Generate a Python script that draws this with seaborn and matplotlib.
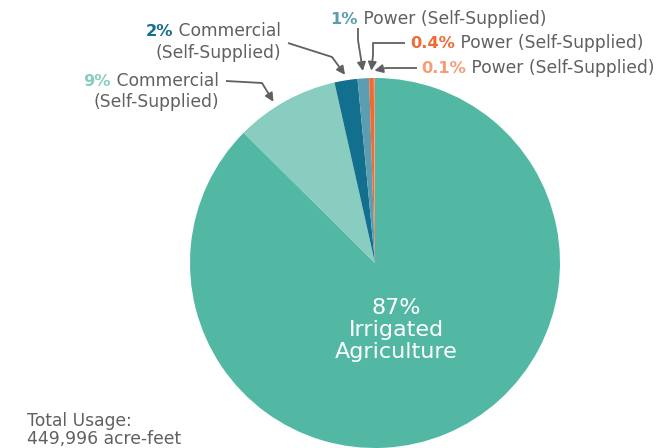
import numpy as np
import matplotlib
matplotlib.use("Agg")
import matplotlib.pyplot as plt
import seaborn as sns

# water use shares (percent), drawn clockwise from 12 o'clock
categories = ["Irrigated Agriculture", "Commercial (Self-Supplied)", "Commercial (Self-Supplied)",
              "Power (Self-Supplied)", "Power (Self-Supplied)", "Power (Self-Supplied)"]
shares = [87, 9, 2, 1, 0.4, 0.1]
share_labels = ["87%", "9%", "2%", "1%", "0.4%", "0.1%"]
colors = ["#52b8a3", "#88cdbf", "#136f8e", "#5b9db1", "#ef6b33", "#f69c74"]
total_label = "Total Usage:\n449,996 acre-feet"

sns.set_style("white")
plt.rcParams["font.family"] = ["DejaVu Sans"]
GRAY = "#606060"
FS = 12.3

W, H = 657, 448
CX, CY, R = 375, 263, 185
fig = plt.figure(figsize=(W / 100, H / 100), dpi=100)
ax = fig.add_axes([(CX - R) / W, (H - CY - R) / H, 2 * R / W, 2 * R / H])
wedges, _ = ax.pie(shares, colors=colors, startangle=90, counterclock=False,
                   radius=1, wedgeprops=dict(linewidth=0))
ax.set_xlim(-1, 1)
ax.set_ylim(-1, 1)
ax.set_aspect("equal")
ax.axis("off")


def d(px, py):
    # pixel position in the picture -> data coords of the pie axes
    return ((px - CX) / R, (CY - py) / R)


def edge_point(i, r=1.03, f=0.5):
    w = wedges[i]
    a = np.deg2rad(w.theta1 + f * (w.theta2 - w.theta1))
    return (r * np.cos(a), r * np.sin(a))


fig.canvas.draw()
renderer = fig.canvas.get_renderer()


def two_tone(px, py, pct, rest, color, ha="left", size=FS):
    x, y = d(px, py)
    if ha == "left":
        t1 = ax.text(x, y, pct, color=color, fontsize=size - 0.6, fontweight="bold",
                     ha="left", va="center", clip_on=False)
        bb = t1.get_window_extent(renderer)
        x2 = ax.transData.inverted().transform((bb.x1, 0))[0]
        ax.text(x2, y, " " + rest, color=GRAY, fontsize=size, ha="left",
                va="center", clip_on=False)
    else:
        t2 = ax.text(x, y, " " + rest, color=GRAY, fontsize=size, ha="right",
                     va="center", clip_on=False)
        bb = t2.get_window_extent(renderer)
        x1 = ax.transData.inverted().transform((bb.x0, 0))[0]
        ax.text(x1, y, pct, color=color, fontsize=size - 0.6, fontweight="bold",
                ha="right", va="center", clip_on=False)


def plain(px, py, s, ha="left", size=FS):
    x, y = d(px, py)
    ax.text(x, y, s, color=GRAY, fontsize=size, ha=ha, va="center", clip_on=False)


def leader(points, target):
    pts = [d(*p) for p in points]
    xs = [p[0] for p in pts]
    ys = [p[1] for p in pts]
    ax.plot(xs, ys, color=GRAY, lw=1.3, clip_on=False, solid_capstyle="butt")
    ax.annotate("", xy=target, xytext=pts[-1], annotation_clip=False,
                arrowprops=dict(arrowstyle="-|>,head_length=0.5,head_width=0.25",
                                color=GRAY, lw=1.3, shrinkA=0, shrinkB=0))


# centre label
x, y = d(396, 330)
ax.text(x, y, share_labels[0] + "\nIrrigated\nAgriculture", color="white",
        fontsize=16, ha="center", va="center", linespacing=1.1)

# 9% commercial
two_tone(219, 81, share_labels[1], "Commercial", colors[1], ha="right")
plain(219, 102, "(Self-Supplied)", ha="right")
leader([(226, 81), (262, 83)], edge_point(1, 1.03, 0.6))

# 2% commercial
two_tone(281, 31, share_labels[2], "Commercial", colors[2], ha="right")
plain(281, 53, "(Self-Supplied)", ha="right")
leader([(288, 43), (332, 57)], edge_point(2))

# 1% power
two_tone(330, 19, share_labels[3], "Power (Self-Supplied)", colors[3])
leader([(358, 28), (358, 40)], edge_point(3, 1.04))

# 0.4% power
two_tone(410, 43, share_labels[4], "Power (Self-Supplied)", colors[4])
leader([(405, 43), (373, 43), (373, 55)], edge_point(4, 1.04))

# 0.1% power
two_tone(421, 68, share_labels[5], "Power (Self-Supplied)", colors[5])
leader([(417, 68), (386, 68)], edge_point(5, 1.04))

# total
x, y = d(27, 430)
ax.text(x, y, total_label, color=GRAY, fontsize=12.3, ha="left", va="center",
        linespacing=1.0, clip_on=False)

fig.savefig("out.png", dpi=100)
